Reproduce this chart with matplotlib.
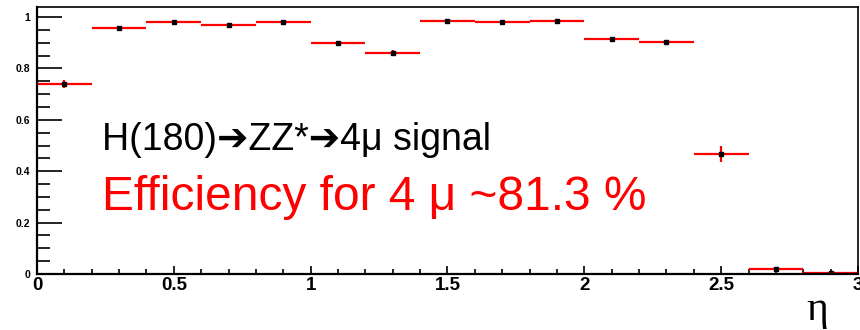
import numpy as np
import matplotlib.pyplot as plt
from matplotlib.ticker import MultipleLocator

# === DONNEES ===
eta_centers = [0.1, 0.3, 0.5, 0.7, 0.9, 1.1, 1.3, 1.5, 1.7, 1.9, 2.1, 2.3, 2.5, 2.7, 2.9]
eff = [0.739, 0.958, 0.979, 0.969, 0.979, 0.898, 0.861, 0.984, 0.981, 0.984,
       0.913, 0.903, 0.466, 0.019, 0.004]
eff_err = [0.016, 0.004, 0.003, 0.003, 0.003, 0.008, 0.009, 0.003, 0.003, 0.003,
           0.009, 0.009, 0.032, 0.003, 0.002]
bin_half = 0.1

# === FIGURE ===
fig = plt.figure(figsize=(8.6, 3.3), dpi=100)
ax = fig.add_axes([37 / 860, 56 / 330, 821 / 860, 267 / 330])

ax.errorbar(eta_centers, eff, xerr=bin_half, yerr=eff_err, fmt="none",
            ecolor="red", elinewidth=1.6, capsize=0)
ax.plot(eta_centers, eff, "s", color="black", ms=2.2, zorder=3)

ax.set_xlim(0, 3)
ax.set_ylim(0, 1.039)

ax.xaxis.set_minor_locator(MultipleLocator(0.1))
ax.yaxis.set_minor_locator(MultipleLocator(0.05))
ax.set_xticks([0, 0.5, 1, 1.5, 2, 2.5, 3])
ax.set_xticklabels(["0", "0.5", "1", "1.5", "2", "2.5", "3"])
ax.set_yticks([0, 0.2, 0.4, 0.6, 0.8, 1])
ax.set_yticklabels(["0", "0.2", "0.4", "0.6", "0.8", "1"])

ax.tick_params(axis="y", which="major", direction="in", length=18, width=1.2,
               labelsize=7.5, pad=5)
ax.tick_params(axis="y", which="minor", direction="in", length=9, width=1.2)
ax.tick_params(axis="x", which="major", direction="in", length=6, width=1.2,
               labelsize=13.5, pad=2)
ax.tick_params(axis="x", which="minor", direction="in", length=3.5, width=1.2)
for lab in ax.get_xticklabels() + ax.get_yticklabels():
    lab.set_fontweight("bold")
    lab.set_family(["Liberation Sans", "DejaVu Sans"])

for side in ["top", "right"]:
    ax.spines[side].set_linewidth(1.2)
for side in ["left", "bottom"]:
    ax.spines[side].set_linewidth(1.6)

# === TEXTES ===
fig.text(102 / 860, 1 - 150 / 330, "H(180)\u2794ZZ*\u27944\u03bc signal",
         fontsize=27, color="black", family=["Liberation Sans", "DejaVu Sans"],
         va="baseline", ha="left")
fig.text(102 / 860, 1 - 210 / 330, "Efficiency for 4 \u03bc ~81.3 %",
         fontsize=34.5, color="red", family=["Liberation Sans", "DejaVu Sans"],
         va="baseline", ha="left")
fig.text(817 / 860, 1 - 310 / 330, "\u03b7", fontsize=30,
         family=["Liberation Serif", "DejaVu Serif"], ha="center", va="center")

plt.savefig("out.png", dpi=100)
